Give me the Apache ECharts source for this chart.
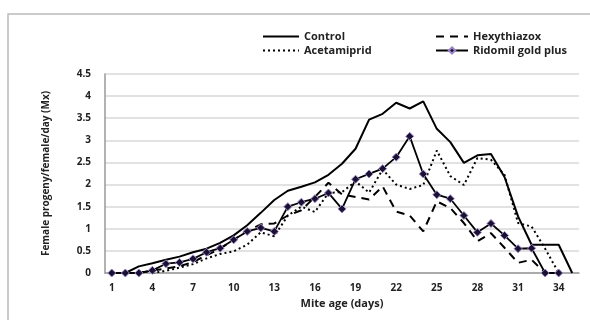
<!DOCTYPE html>
<html>
<head>
<meta charset="utf-8">
<script src="https://cdn.jsdelivr.net/npm/echarts@6/dist/echarts.min.js"></script>
<style>
  html, body { margin: 0; padding: 0; background: #fff; }
  #chart { width: 590px; height: 320px; }
</style>
</head>
<body>
<div id="chart"></div>
<script>
const days = Array.from({ length: 35 }, (_, i) => String(i + 1))

const control = [0, 0, 0.15, 0.22, 0.3, 0.37, 0.47, 0.55, 0.68, 0.85, 1.08, 1.36, 1.65, 1.86, 1.95, 2.05,
  2.22, 2.47, 2.81, 3.47, 3.6, 3.85, 3.72, 3.88, 3.26, 2.96, 2.49, 2.66, 2.69, 2.17, 1.28, 0.64, 0.64, 0.64, 0]
const hexythiazox = [0, 0, 0, 0.05, 0.1, 0.15, 0.25, 0.4, 0.55, 0.75, 0.95, 1.1, 1.12, 1.3, 1.42, 1.72,
  2.04, 1.78, 1.72, 1.66, 1.96, 1.39, 1.3, 0.94, 1.62, 1.47, 1.13, 0.72, 0.9, 0.57, 0.23, 0.3, 0, null, null]
const acetamiprid = [null, null, null, 0, 0.05, 0.12, 0.2, 0.33, 0.43, 0.49, 0.64, 0.92, 0.83, 1.3, 1.5, 1.38,
  1.81, 1.83, 2.07, 1.82, 2.34, 2.0, 1.9, 1.99, 2.77, 2.19, 1.99, 2.6, 2.56, 2.22, 1.13, 1.05, 0.55, 0, null]
const ridomil = [0, 0, 0, 0.06, 0.21, 0.24, 0.32, 0.47, 0.56, 0.75, 0.94, 1.02, 0.94, 1.5, 1.6, 1.68,
  1.81, 1.45, 2.12, 2.24, 2.36, 2.62, 3.09, 2.24, 1.77, 1.68, 1.3, 0.92, 1.12, 0.85, 0.55, 0.56, 0, 0, null]

const font = "'Open Sans', 'Liberation Sans', sans-serif"
const legendText = { fontFamily: font, fontWeight: 'bold', fontSize: 11, color: '#222' }

const chart = echarts.init(document.getElementById('chart'))

// one legend per entry so each sits where Excel put it
const legendAt = (name, left, top, width, withSymbol) => ({
  left, top,
  itemWidth: width, itemHeight: 8, itemGap: 4,
  textStyle: legendText,
  itemStyle: withSymbol ? {} : { opacity: 0 },
  data: [name],
})

const lineSeries = (name, data, type) => ({
  name,
  type: 'line',
  data,
  symbol: 'none',
  lineStyle: { color: '#000', width: 2, type },
  itemStyle: { color: '#000' },
})

chart.setOption({
  animation: false,
  graphic: [
    {
      type: 'rect',
      shape: { x: 8, y: 14, width: 600, height: 320 },
      style: { fill: 'none', stroke: '#bbb', lineWidth: 1.5 },
      z: -1,
    },
  ],
  legend: [
    legendAt('Control', 257, 26, 36, false),
    legendAt('Hexythiazox', 430, 26, 32, false),
    legendAt('Acetamiprid', 257, 40, 36, false),
    legendAt('Ridomil gold plus', 430, 40, 32, true),
  ],
  grid: { left: 105, right: 11, top: 74, bottom: 47 },
  xAxis: {
    type: 'category',
    data: days,
    boundaryGap: true,
    name: 'Mite age (days)',
    nameLocation: 'middle',
    nameGap: 24,
    nameTextStyle: { fontFamily: font, fontWeight: 'bold', fontSize: 11, color: '#222' },
    axisLine: { lineStyle: { color: '#999', width: 1.5 } },
    axisTick: { interval: 0, length: 4, lineStyle: { color: '#999' } },
    axisLabel: { interval: 2, fontFamily: font, fontWeight: 'bold', fontSize: 10, color: '#222', margin: 10 },
  },
  yAxis: {
    type: 'value',
    min: 0,
    max: 4.5,
    interval: 0.5,
    name: 'Female progeny/female/day (Mx)',
    nameLocation: 'middle',
    nameGap: 54,
    nameTextStyle: { fontFamily: font, fontWeight: 'bold', fontSize: 10, color: '#222' },
    axisLine: { show: true, lineStyle: { color: '#999', width: 1.5 } },
    axisTick: { show: false },
    splitLine: { lineStyle: { color: '#d8d8d8', width: 1.5 } },
    axisLabel: { fontFamily: font, fontWeight: 'bold', fontSize: 10, color: '#222', margin: 14 },
  },
  series: [
    lineSeries('Control', control, 'solid'),
    lineSeries('Hexythiazox', hexythiazox, [8, 6]),
    lineSeries('Acetamiprid', acetamiprid, [2, 3]),
    {
      name: 'Ridomil gold plus',
      type: 'line',
      data: ridomil,
      symbol: 'diamond',
      symbolSize: 8,
      lineStyle: { color: '#000', width: 1.8 },
      itemStyle: { color: '#1a1030', borderColor: '#9b86c9', borderWidth: 1 },
      z: 5,
    },
  ],
})
</script>
</body>
</html>
